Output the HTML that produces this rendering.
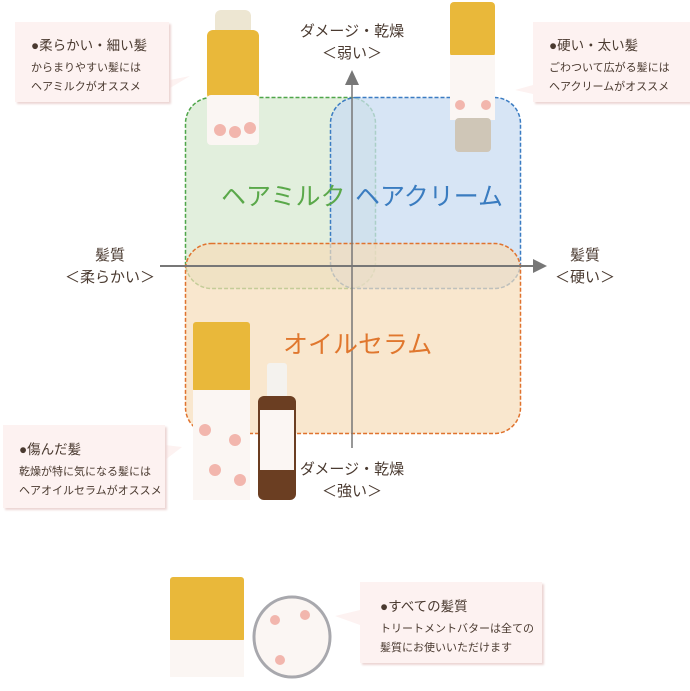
<!DOCTYPE html>
<html><head><meta charset="utf-8"><style>
body{margin:0;width:690px;height:691px;background:#fff;position:relative;overflow:hidden;font-family:"Liberation Sans","Noto Sans CJK JP",sans-serif;color:#4a3a30}
.a{position:absolute}
.call{position:absolute;background:#fdf2f1;box-shadow:2px 2px 2px #ecd6d4;font-size:11px;line-height:19px;color:#4a3a30}
.call b{font-size:13.5px;font-weight:normal;display:block;margin-bottom:4px}
.lbl{position:absolute;text-align:center;font-size:15px;line-height:22px;color:#4a3a30}
.big{position:absolute;font-size:25px;white-space:nowrap}
</style></head><body>
<svg class="a" style="left:0;top:0" width="690" height="691">
<rect x="185.5" y="97.5" width="190" height="191" rx="26" fill="#d8ead2" fill-opacity="0.75" stroke="#4fa64a" stroke-width="1.5" stroke-dasharray="4,2"/>
<rect x="330.5" y="97.5" width="190" height="191" rx="26" fill="#c9dcf1" fill-opacity="0.75" stroke="#3b7cc2" stroke-width="1.5" stroke-dasharray="4,2"/>
<rect x="185.5" y="243.5" width="335" height="190" rx="26" fill="#f6ddb9" fill-opacity="0.7" stroke="#e0732e" stroke-width="1.5" stroke-dasharray="4,2"/>
<line x1="160" y1="266" x2="535" y2="266" stroke="#777" stroke-width="2"/>
<polygon points="533,259 547,266 533,273" fill="#777"/>
<line x1="352" y1="85" x2="352" y2="448" stroke="#777" stroke-width="1.5"/>
<polygon points="345,85 352,70 359,85" fill="#777"/>
<polygon points="170,80 190,76 170,88" fill="#fdf2f1"/>
<polygon points="533,85 515,90 533,94" fill="#fdf2f1"/>
<polygon points="165,445 182,447 165,460" fill="#fdf2f1"/>
<polygon points="360,610 335,616 360,625" fill="#fdf2f1"/>
<!-- milk bottle -->
<rect x="215" y="10" width="36" height="25" rx="6" fill="#ede6d2"/>
<rect x="207" y="30" width="52" height="70" rx="6" fill="#e9b83a"/>
<rect x="207" y="95" width="52" height="50" rx="4" fill="#fbf6f3"/>
<circle cx="220" cy="130" r="6" fill="#f2b6ad"/><circle cx="235" cy="132" r="6" fill="#f2b6ad"/><circle cx="250" cy="128" r="6" fill="#f2b6ad"/>
<!-- tube -->
<rect x="450" y="2" width="45" height="55" rx="4" fill="#e9b83a"/>
<rect x="450" y="55" width="45" height="65" fill="#fbf6f3"/>
<rect x="455" y="118" width="36" height="34" rx="4" fill="#cfc6b7"/>
<circle cx="460" cy="105" r="5" fill="#f2b6ad"/><circle cx="486" cy="105" r="5" fill="#f2b6ad"/>
<!-- oil box -->
<rect x="193" y="322" width="57" height="70" rx="3" fill="#e9b83a"/>
<rect x="193" y="390" width="57" height="110" fill="#fbf6f3"/>
<circle cx="205" cy="430" r="6" fill="#f2b6ad"/><circle cx="235" cy="440" r="6" fill="#f2b6ad"/><circle cx="215" cy="470" r="6" fill="#f2b6ad"/><circle cx="240" cy="480" r="6" fill="#f2b6ad"/>
<rect x="267" y="363" width="20" height="35" rx="3" fill="#f4f2ee"/>
<rect x="258" y="396" width="38" height="104" rx="6" fill="#6b3e22"/>
<rect x="260" y="410" width="34" height="60" fill="#fbf6f3"/>
<!-- bottom box and jar -->
<rect x="170" y="577" width="74" height="65" rx="3" fill="#e9b83a"/>
<rect x="170" y="640" width="74" height="37" fill="#fbf6f3"/>
<ellipse cx="292" cy="637" rx="38" ry="40" fill="#fbf6f3" stroke="#a8a8ad" stroke-width="3"/>
<circle cx="275" cy="620" r="5" fill="#f2b6ad"/><circle cx="305" cy="615" r="5" fill="#f2b6ad"/><circle cx="280" cy="660" r="5" fill="#f2b6ad"/>
</svg>
<div class="lbl" style="left:292px;top:21px;width:120px">ダメージ・乾燥<br>＜弱い＞</div>
<div class="lbl" style="left:292px;top:459px;width:120px">ダメージ・乾燥<br>＜強い＞</div>
<div class="lbl" style="left:55px;top:245px;width:110px">髪質<br>＜柔らかい＞</div>
<div class="lbl" style="left:545px;top:245px;width:80px">髪質<br>＜硬い＞</div>
<div class="big" style="left:221px;top:177px;color:#5aa84a">ヘアミルク</div>
<div class="big" style="left:355px;top:177px;color:#3a7cc0">ヘアクリーム</div>
<div class="big" style="left:283px;top:325px;color:#e0772e">オイルセラム</div>
<div class="call" style="left:15px;top:22px;width:138px;height:66px;padding:14px 0 0 16px"><b>●柔らかい・細い髪</b>からまりやすい髪には<br>ヘアミルクがオススメ</div>
<div class="call" style="left:533px;top:22px;width:141px;height:66px;padding:14px 0 0 16px"><b>●硬い・太い髪</b>ごわついて広がる髪には<br>ヘアクリームがオススメ</div>
<div class="call" style="left:3px;top:425px;width:146px;height:68px;padding:15px 0 0 16px"><b>●傷んだ髪</b>乾燥が特に気になる髪には<br>ヘアオイルセラムがオススメ</div>
<div class="call" style="left:360px;top:582px;width:162px;height:66px;padding:15px 0 0 20px"><b>●すべての髪質</b>トリートメントバターは全ての<br>髪質にお使いいただけます</div>
</body></html>
